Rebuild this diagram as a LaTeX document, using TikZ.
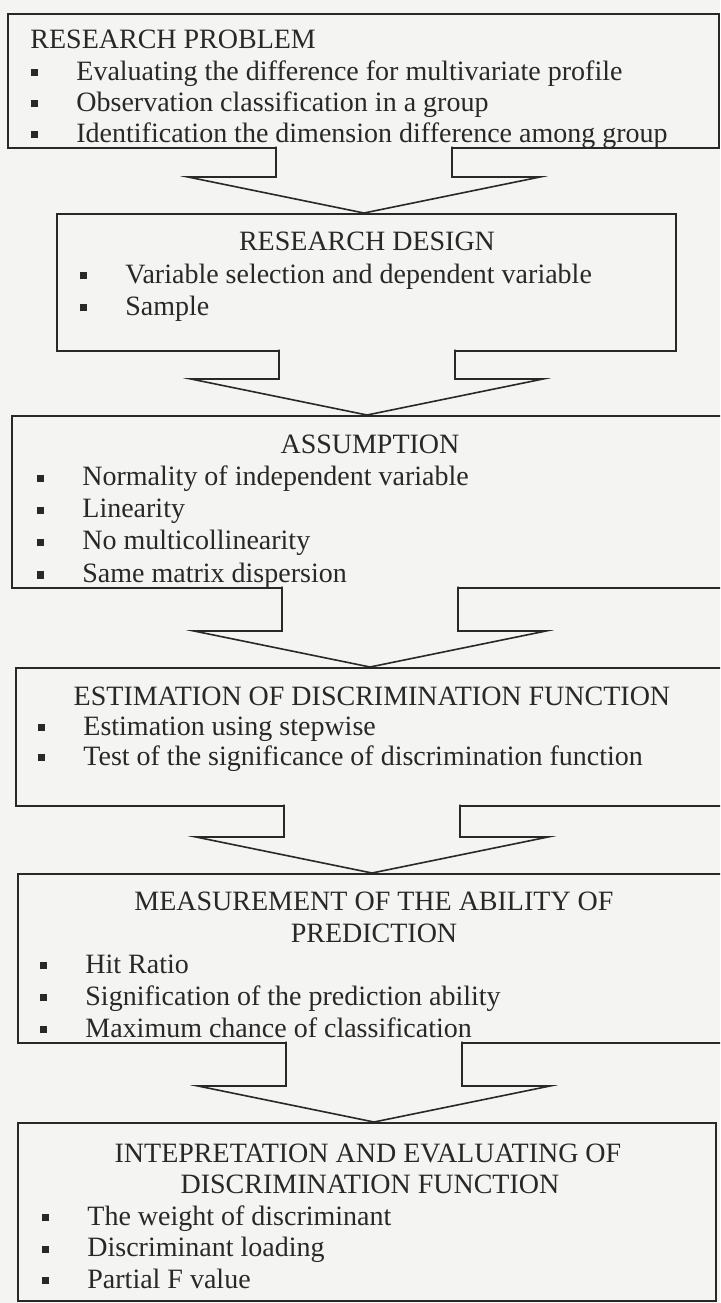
\documentclass[tikz,border=0pt]{standalone}
\usepackage{fontspec}
\setmainfont{Liberation Serif}
\usetikzlibrary{calc}
\definecolor{paper}{RGB}{244,244,242}
\definecolor{ink}{RGB}{40,40,40}
\tikzset{
  stage/.style={draw=ink, line width=0.8pt, anchor=north west, inner sep=0pt},
  head/.style={anchor=base, text=ink, inner sep=0pt},
  item/.style={anchor=base west, text=ink, inner sep=0pt},
  flow/.style={draw=ink, fill=paper, line width=0.8pt, line join=miter}
}
\newcommand{\sqbul}{\makebox[22.5pt][l]{\rule[1.8pt]{3.4pt}{3.6pt}}}
% block arrow from the bottom of #1 to the top of #2, tip at x = #3
\newcommand{\flowarrow}[3]{%
  \path[flow] let \p1 = (#1.south), \p2 = (#2.north), \p3 = (#3,0) in
    (\x3-44pt,\y1+1pt) -- (\x3-44pt,\y2+18pt) -- (\x3-88pt,\y2+18pt)
    -- (\x3,\y2) -- (\x3+88pt,\y2+18pt) -- (\x3+44pt,\y2+18pt) -- (\x3+44pt,\y1+1pt);}

\begin{document}
\begin{tikzpicture}[x=0.5pt, y=-0.5pt, font=\fontsize{14}{16}\selectfont]
\useasboundingbox (0,0) rectangle (720,1303);
\clip (0,0) rectangle (720,1303);
\fill[paper] (0,0) rectangle (720,1303);

% research problem
\node[stage, minimum width=355.5pt, minimum height=67pt] (problem) at (7,13) {};
\node[item] (problem-t) at (30,48) {RESEARCH PROBLEM};
\foreach \t [count=\i] in {Evaluating the difference for multivariate profile,
    Observation classification in a group,
    Identification the dimension difference among group}
  \node[item] (problem-\i) at (31,49+31*\i) {\sqbul\t};

% research design
\node[stage, minimum width=309.5pt, minimum height=68.5pt] (design) at (56,213) {};
\node[head] (design-t) at (367,250) {RESEARCH DESIGN};
\foreach \t [count=\i] in {Variable selection and dependent variable, Sample}
  \node[item] (design-\i) at (80,251+32*\i) {\sqbul\t};

% assumption
\node[stage, minimum width=370pt, minimum height=86pt] (assume) at (11,415) {};
\node[head] (assume-t) at (370,453) {ASSUMPTION};
\foreach \t [count=\i] in {Normality of independent variable, Linearity,
    No multicollinearity, Same matrix dispersion}
  \node[item] (assume-\i) at (37,453+32.3*\i) {\sqbul\t};

% estimation
\node[stage, minimum width=370pt, minimum height=69pt] (estim) at (15,667) {};
\node[head] (estim-t) at (372,705) {ESTIMATION OF DISCRIMINATION FUNCTION};
\foreach \t [count=\i] in {Estimation using stepwise,
    Test of the significance of discrimination function}
  \node[item] (estim-\i) at (38,705+30*\i) {\sqbul\t};

% measurement
\node[stage, minimum width=370pt, minimum height=84.5pt] (measure) at (17,873) {};
\node[head] (measure-t1) at (374,910) {MEASUREMENT OF THE ABILITY OF};
\node[head] (measure-t2) at (374,942) {PREDICTION};
\foreach \t [count=\i] in {Hit Ratio, Signification of the prediction ability,
    Maximum chance of classification}
  \node[item] (measure-\i) at (40,941+32*\i) {\sqbul\t};

% interpretation
\node[stage, minimum width=349pt, minimum height=89pt] (interp) at (17,1122) {};
\node[head] (interp-t1) at (368,1162) {INTEPRETATION AND EVALUATING OF};
\node[head] (interp-t2) at (370,1193) {DISCRIMINATION FUNCTION};
\foreach \t [count=\i] in {The weight of discriminant, Discriminant loading,
    Partial F value}
  \node[item] (interp-\i) at (42,1193.5+31.5*\i) {\sqbul\t};

% block arrows
\flowarrow{problem}{design}{364}
\flowarrow{design}{assume}{367}
\flowarrow{assume}{estim}{370}
\flowarrow{estim}{measure}{372}
\flowarrow{measure}{interp}{374}
\end{tikzpicture}
\end{document}
